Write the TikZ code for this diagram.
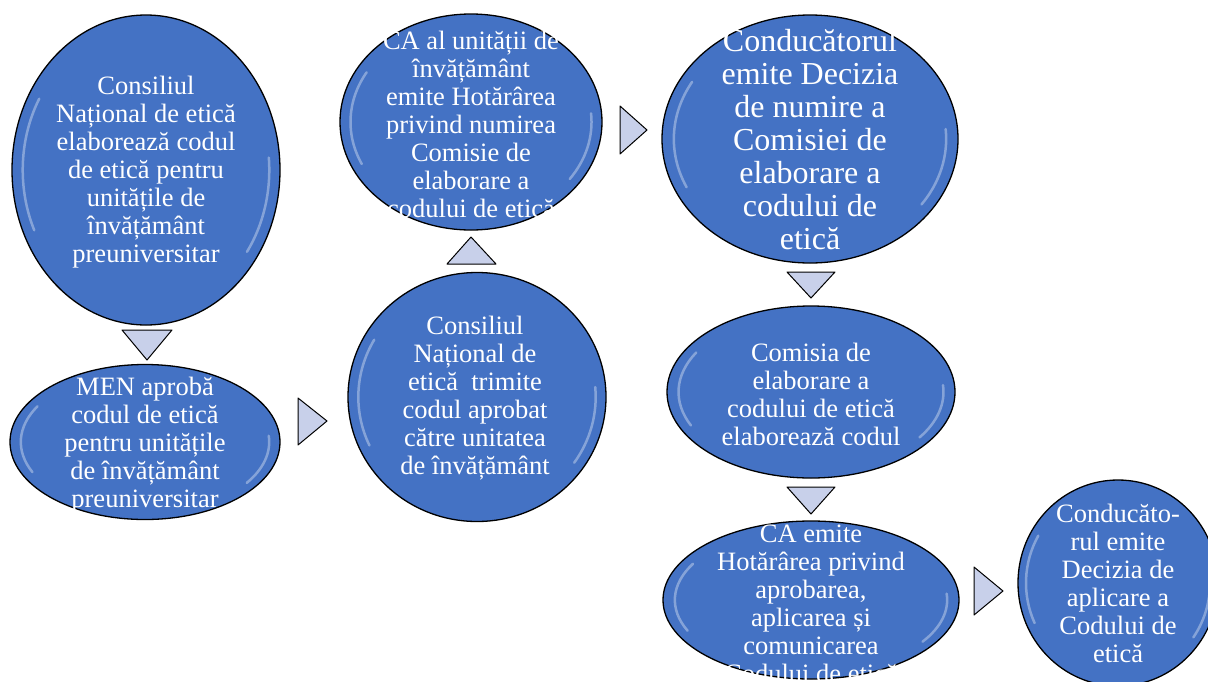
\documentclass[tikz,border=0pt]{standalone}
\usepackage{fontspec}
\setmainfont{Liberation Serif}
\usetikzlibrary{shapes.geometric,calc}
\definecolor{stageblue}{RGB}{68,114,196}
\definecolor{arrowfill}{RGB}{200,208,234}
\tikzset{
  stage/.style={ellipse,draw=black,line width=1.3pt,fill=stageblue,inner sep=0pt,
    path picture={
      \draw[white,opacity=.35,line width=2.5pt,line cap=round]
        let \p1=(path picture bounding box.north east), \p2=(path picture bounding box.center),
            \n1={(\x1-\x2)*0.92}, \n2={(\y1-\y2)*0.92} in
        ($(\p2)+(150:\n1 and \n2)$) arc[start angle=150,end angle=205,x radius=\n1,y radius=\n2]
        ($(\p2)+(-35:\n1 and \n2)$) arc[start angle=-35,end angle=5,x radius=\n1,y radius=\n2];
    }},
  stagetext/.style={text=white,align=center,inner sep=0pt,font=\fontsize{26.5}{28}\selectfont},
  tri/.style={draw=black,line width=1pt,fill=arrowfill,line join=round}
}
\begin{document}
\begin{tikzpicture}[x=1pt,y=-1pt]
  \useasboundingbox (0,0) rectangle (1208,681);
  % ellipses
  \node[stage,minimum width=268pt,minimum height=310pt] (e1) at (146,170) {};
  \node[stage,minimum width=270pt,minimum height=155pt] (e2) at (145,442) {};
  \node[stage,minimum width=258pt,minimum height=249pt] (e3) at (477,397) {};
  \node[stage,minimum width=262pt,minimum height=216pt] (e4) at (471,122) {};
  \node[stage,minimum width=296pt,minimum height=248pt] (e5) at (810,139) {};
  \node[stage,minimum width=288pt,minimum height=172pt] (e6) at (811,392) {};
  \node[stage,minimum width=296pt,minimum height=158pt] (e7) at (811,600) {};
  \node[stage,minimum width=200pt,minimum height=206pt] (e8) at (1118,583) {};
  % texts
  \node[stagetext] (e1t) at (146,172) {Consiliul\\ Național de etică\\ elaborează codul\\ de etică pentru\\ unitățile de\\ învățământ\\ preuniversitar};
  \node[stagetext] (e2t) at (145,445) {MEN aprobă\\ codul de etică\\ pentru unitățile\\ de învățământ\\ preuniversitar};
  \node[stagetext] (e3t) at (475,398) {Consiliul\\ Național de\\ etică~ trimite\\ codul aprobat\\ către unitatea\\ de învățământ};
  \node[stagetext] (e4t) at (471,124) {CA al unității de\\ învățământ\\ emite Hotărârea\\ privind numirea\\ Comisie de\\ elaborare a\\ codului de etică};
  \node[stagetext,font=\fontsize{32}{33}\selectfont] (e5t) at (810,140) {Conducătorul\\ emite Decizia\\ de numire a\\ Comisiei de\\ elaborare a\\ codului de\\ etică};
  \node[stagetext] (e6t) at (811,394) {Comisia de\\ elaborare a\\ codului de etică\\ elaborează codul};
  \node[stagetext] (e7t) at (811,604) {CA emite\\ Hotărârea privind\\ aprobarea,\\ aplicarea și\\ comunicarea\\ Codului de etică};
  \node[stagetext] (e8t) at (1118,583) {Conducăto-\\ rul emite\\ Decizia de\\ aplicare a\\ Codului de\\ etică};
  % arrows
  \draw[tri] (122,330) -- (172,330) -- (147,360) -- cycle;
  \draw[tri] (298,398) -- (327,421) -- (298,445) -- cycle;
  \draw[tri] (447,264) -- (496,264) -- (471,237) -- cycle;
  \draw[tri] (620,106) -- (647,130) -- (620,154) -- cycle;
  \draw[tri] (787,272) -- (835,272) -- (811,298) -- cycle;
  \draw[tri] (787,487) -- (835,487) -- (811,514) -- cycle;
  \draw[tri] (974,567) -- (1003,591) -- (974,615) -- cycle;
\end{tikzpicture}
\end{document}
